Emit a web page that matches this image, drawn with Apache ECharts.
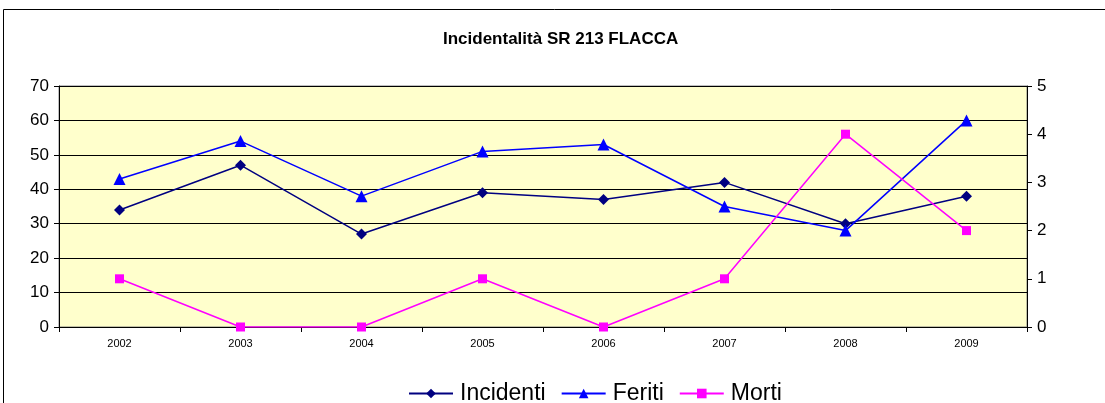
<!DOCTYPE html>
<html>
<head>
<meta charset="utf-8">
<script src="https://cdn.jsdelivr.net/npm/echarts@6/dist/echarts.min.js"></script>
<style>
html, body { margin: 0; padding: 0; background: #fff; }
#chart { width: 1105px; height: 403px; }
</style>
</head>
<body>
<div id="chart"></div>
<script>
// dati
var anni = ['2002', '2003', '2004', '2005', '2006', '2007', '2008', '2009'];
var incidenti = [34, 47, 27, 39, 37, 42, 30, 38];
var feriti = [43, 54, 38, 51, 53, 35, 28, 60];
var morti = [1, 0, 0, 1, 0, 1, 4, 2];
var tickSx = [0, 10, 20, 30, 40, 50, 60, 70];
var tickDx = [0, 1, 2, 3, 4, 5];

var myChart = echarts.init(document.getElementById('chart'));
var option = {
    backgroundColor: '#ffffff',
    textStyle: { fontFamily: 'Liberation Sans, Arial, sans-serif' },
    title: {
        text: 'Incidentalità SR 213 FLACCA',
        left: 438,
        top: 26,
        textStyle: { fontSize: 17, fontWeight: 'bold', color: '#000' }
    },
    graphic: [{
        type: 'rect',
        shape: { x: 3.5, y: 9.5, width: 1120, height: 420 },
        style: { fill: 'none', stroke: '#000', lineWidth: 1 },
        silent: true
    }],
    legend: {
        top: 377,
        left: 403,
        itemWidth: 44,
        itemHeight: 12,
        itemGap: 15,
        textStyle: { fontSize: 23, color: '#000', padding: [0, 0, 0, 2] },
        data: ['Incidenti', 'Feriti', 'Morti']
    },
    grid: {
        left: 59,
        right: 78,
        top: 86,
        bottom: 76,
        show: true,
        backgroundColor: '#FFFFCC',
        borderColor: '#808080',
        borderWidth: 1
    },
    xAxis: {
        type: 'category',
        data: anni,
        boundaryGap: true,
        axisLine: { lineStyle: { color: '#000', width: 1 } },
        axisTick: { show: true, inside: false, length: 5, lineStyle: { color: '#000' } },
        axisLabel: { fontSize: 11, color: '#000', margin: 11 }
    },
    yAxis: [{
        type: 'value',
        min: tickSx[0],
        max: tickSx[tickSx.length - 1],
        interval: 10,
        axisLine: { show: true, lineStyle: { color: '#000' } },
        axisTick: { show: true, length: 5, lineStyle: { color: '#000' } },
        axisLabel: { fontSize: 17, color: '#000', margin: 10 },
        splitLine: { show: true, lineStyle: { color: '#000', width: 1 } }
    }, {
        type: 'value',
        min: tickDx[0],
        max: tickDx[tickDx.length - 1],
        interval: 1,
        position: 'right',
        axisLine: { show: true, lineStyle: { color: '#000' } },
        axisTick: { show: true, length: 5, lineStyle: { color: '#000' } },
        axisLabel: { fontSize: 17, color: '#000', margin: 10 },
        splitLine: { show: false }
    }],
    series: [{
        name: 'Incidenti',
        type: 'line',
        data: incidenti,
        yAxisIndex: 0,
        symbol: 'diamond',
        symbolSize: 11,
        itemStyle: { color: '#000080' },
        lineStyle: { color: '#000080', width: 1.5 },
        animation: false
    }, {
        name: 'Feriti',
        type: 'line',
        data: feriti,
        yAxisIndex: 0,
        symbol: 'triangle',
        symbolSize: 12,
        itemStyle: { color: '#0000FF' },
        lineStyle: { color: '#0000FF', width: 1.5 },
        animation: false
    }, {
        name: 'Morti',
        type: 'line',
        data: morti,
        yAxisIndex: 1,
        symbol: 'rect',
        symbolSize: 9,
        itemStyle: { color: '#FF00FF' },
        lineStyle: { color: '#FF00FF', width: 1.5 },
        animation: false
    }]
};
myChart.setOption(option);
</script>
</body>
</html>
